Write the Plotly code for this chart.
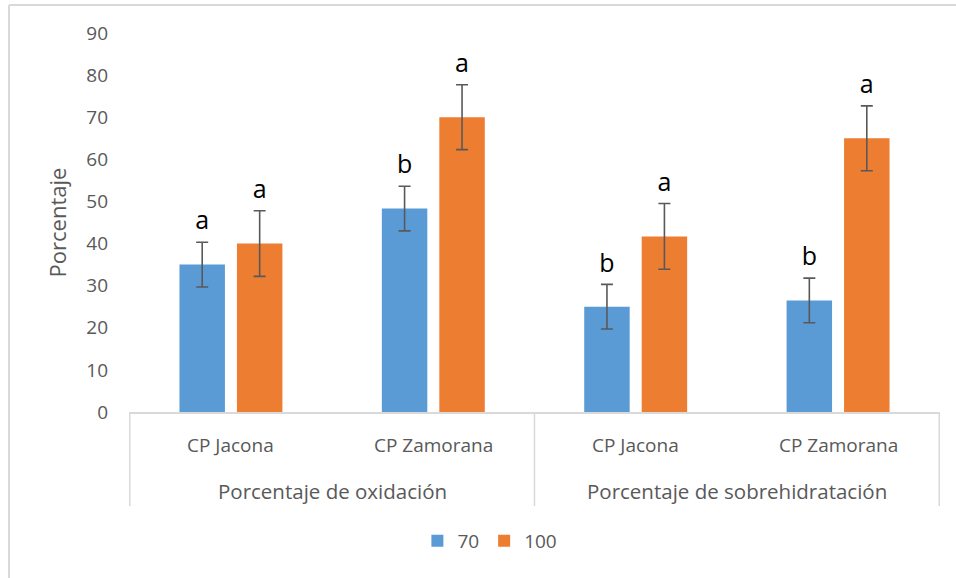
import plotly.graph_objects as go

# ---- data ----
groups = ["Porcentaje de oxidación", "Porcentaje de oxidación",
          "Porcentaje de sobrehidratación", "Porcentaje de sobrehidratación"]
cultivars = ["CP Jacona", "CP Zamorana", "CP Jacona", "CP Zamorana"]
group_labels = ["Porcentaje de oxidación", "Porcentaje de sobrehidratación"]
series_names = ["70", "100"]
vals_70 = [35, 48.3, 25, 26.5]
err_70 = [5.3, 5.3, 5.3, 5.3]
vals_100 = [40, 70, 41.7, 65]
err_100 = [7.8, 7.7, 7.8, 7.7]
letters_70 = ["a", "b", "b", "b"]
letters_100 = ["a", "a", "a", "a"]
y_ticks = [0, 10, 20, 30, 40, 50, 60, 70, 80, 90]

BLUE = "#5B9BD5"
ORANGE = "#ED7D31"
GREY_TXT = "#595959"
LINE = "#D9D9D9"
FONT = "Open Sans"

x = [groups, cultivars]

fig = go.Figure()
for name, vals, errs, col, grp in [(series_names[0], vals_70, err_70, BLUE, "g1"),
                                   (series_names[1], vals_100, err_100, ORANGE, "g2")]:
    fig.add_trace(go.Bar(
        x=x, y=vals, name=name, marker_color=col, marker_line_width=0,
        offsetgroup=grp,
        error_y=dict(type="data", array=errs, visible=True, color=GREY_TXT,
                     thickness=1.6, width=6),
    ))

for vals, errs, labs, grp in [(vals_70, err_70, letters_70, "g1"),
                              (vals_100, err_100, letters_100, "g2")]:
    fig.add_trace(go.Scatter(
        x=x, y=[v + e for v, e in zip(vals, errs)], text=labs,
        mode="markers+text", textposition="top center", offsetgroup=grp,
        marker=dict(size=9, opacity=0),
        textfont=dict(family=FONT, size=25, color="#000000"),
        showlegend=False, hoverinfo="skip", cliponaxis=False,
    ))

annotations = []
for i, c in enumerate(cultivars):
    annotations.append(dict(
        x=i, xref="x", y=0, yref="paper", yshift=-33, yanchor="middle",
        text=c, showarrow=False, font=dict(family=FONT, size=19, color=GREY_TXT)))
n_per_group = len(cultivars) // len(group_labels)
for j, g in enumerate(group_labels):
    annotations.append(dict(
        x=j * n_per_group + (n_per_group - 1) / 2, xref="x", y=0, yref="paper",
        yshift=-79, yanchor="middle", text=g, showarrow=False,
        font=dict(family=FONT, size=20.5, color=GREY_TXT)))

divider_h = 94 / 379
shapes = [
    dict(type="line", xref="paper", yref="paper", x0=-0.148, x1=1.03,
         y0=1.074, y1=1.074, line=dict(color=LINE, width=2)),
    dict(type="line", xref="paper", yref="paper", x0=-0.148, x1=-0.148,
         y0=1.074, y1=-0.45, line=dict(color=LINE, width=2)),
]
for k in range(len(group_labels) + 1):
    shapes.append(dict(type="line", xref="x", yref="paper",
                       x0=k * n_per_group - 0.5, x1=k * n_per_group - 0.5,
                       y0=0, y1=-divider_h, line=dict(color=LINE, width=1.5)))

fig.update_layout(
    width=956, height=578,
    margin=dict(l=129, r=16, t=33, b=166, autoexpand=False),
    paper_bgcolor="white", plot_bgcolor="white",
    barmode="group", bargap=0.432, bargroupgap=0.209,
    scattermode="group", scattergap=0.432,
    font=dict(family=FONT, size=19, color=GREY_TXT),
    legend=dict(orientation="h", x=0.445, xanchor="center", y=-0.34,
                yanchor="middle", font=dict(size=19, color=GREY_TXT),
                itemwidth=30, traceorder="normal"),
    shapes=shapes,
    annotations=annotations,
)
fig.update_xaxes(
    type="multicategory", showline=True, linecolor=LINE, linewidth=1.5,
    showgrid=False, ticks="", showticklabels=False, showdividers=False,
)
fig.update_yaxes(
    range=[0, 90], tickvals=y_ticks, showgrid=False, zeroline=False,
    showline=False, ticks="", ticklabelstandoff=20,
    tickfont=dict(family=FONT, size=19, color=GREY_TXT),
    title=dict(text="Porcentaje", font=dict(family=FONT, size=22, color=GREY_TXT),
               standoff=13),
)

fig.write_html("out.html", config={"displayModeBar": False},
               post_script="document.body.style.margin='0';")
